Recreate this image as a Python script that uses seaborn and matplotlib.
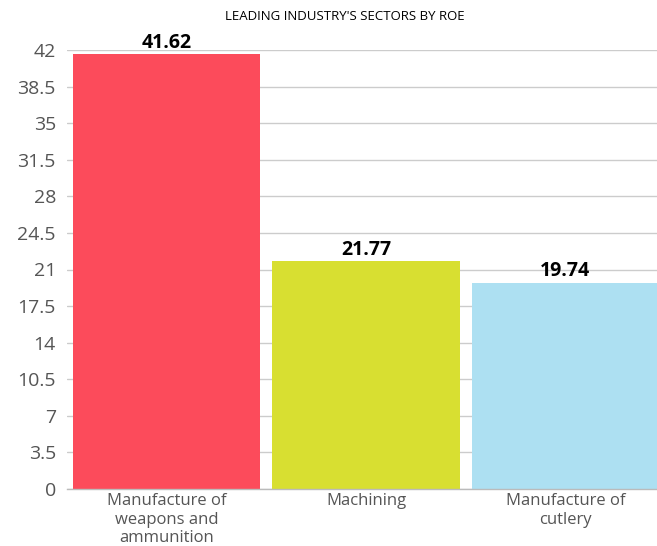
import matplotlib.pyplot as plt
import seaborn as sns
import pandas as pd

# Chart data
sectors = ["Manufacture of\nweapons and\nammunition", "Machining", "Manufacture of\ncutlery"]
roe = [41.62, 21.77, 19.74]
colors = ["#FC4B5B", "#D8DF31", "#ADE0F2"]
y_ticks = [0, 3.5, 7, 10.5, 14, 17.5, 21, 24.5, 28, 31.5, 35, 38.5, 42]

df = pd.DataFrame({"Sector": sectors, "ROE": roe})

sns.set_style("white")
plt.rcParams['font.family'] = ['Open Sans', 'DejaVu Sans']

fig = plt.figure(figsize=(6.57, 5.46), dpi=100)
ax = fig.add_axes([67 / 657, 57 / 546, 598 / 657, 439 / 546])

sns.barplot(data=df, x="Sector", y="ROE", hue="Sector", palette=colors,
            legend=False, width=0.94, saturation=1, linewidth=0, ax=ax, zorder=2)

# Value labels on top of bars
for cont in ax.containers:
    ax.bar_label(cont, fmt="%.2f", padding=1, fontsize=14, fontweight="bold", color="black")

ax.set_ylim(0, 42)
ax.set_xlim(-0.5, 2.5)
ax.set_yticks(y_ticks)
ax.set_yticklabels([f"{t:g}" for t in y_ticks], fontsize=14, color="#555555")
ax.tick_params(axis="y", length=6, color="#BBBBBB", width=1, pad=2)
ax.tick_params(axis="x", length=0, labelsize=12, labelcolor="#555555", pad=3)
ax.set_xticks([-0.5, 0.5, 1.5, 2.5], minor=True)
ax.tick_params(axis="x", which="minor", length=4, color="#BBBBBB", width=1)

ax.grid(axis="y", color="#CCCCCC", linewidth=1, zorder=0)
ax.set_axisbelow(True)
for side in ["left", "right", "top"]:
    ax.spines[side].set_visible(False)
ax.spines["bottom"].set_color("#BBBBBB")
ax.spines["bottom"].set_linewidth(1)

ax.set_xlabel("")
ax.set_ylabel("")

fig.text(345 / 657, 1 - 16 / 546, "LEADING INDUSTRY'S SECTORS BY ROE",
         ha="center", va="center", fontsize=9.5, color="black")

fig.savefig("out.png", dpi=100)
